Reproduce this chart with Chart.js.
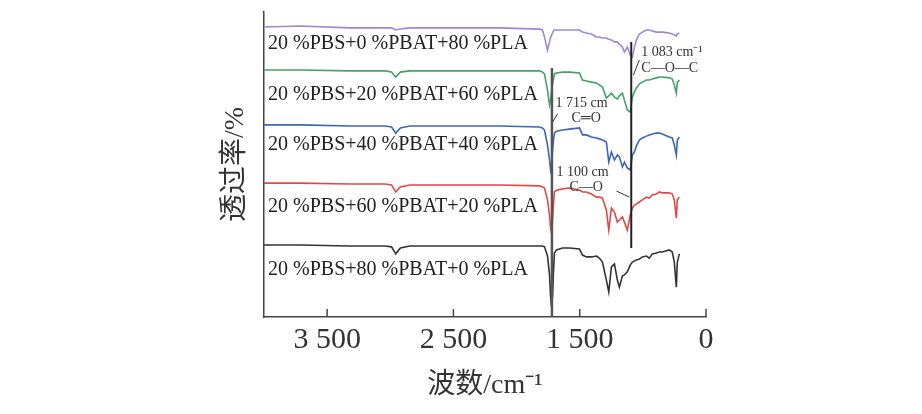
<!DOCTYPE html>
<html>
<head>
<meta charset="utf-8">
<script src="https://cdn.jsdelivr.net/npm/chart.js@4.4.1/dist/chart.umd.min.js"></script>
<style>
  html, body { margin: 0; padding: 0; background: #fff; }
  #wrap { width: 922px; height: 414px; }
</style>
</head>
<body>
<div id="wrap"><canvas id="ftir" width="922" height="414"></canvas></div>
<script>
// wavenumber grid (cm-1) shared by all spectra
const wavenumbers = [4000, 3715, 3320, 3043, 2990, 2957, 2920, 2846, 2530, 2134, 1818, 1795, 1779, 1755, 1739, 1731, 1723, 1715, 1708, 1700, 1684, 1636, 1581, 1502, 1478, 1447, 1407, 1368, 1344, 1320, 1289, 1270, 1249, 1225, 1202, 1186, 1162, 1146, 1123, 1100, 1083, 1067, 1051, 1028, 1004, 972, 949, 925, 893, 870, 846, 791, 767, 751, 735, 727, 711];

// transmittance (offset, arbitrary %) for each blend
const pla80 = [95.1, 95.4, 94.8, 94.8, 94.8, 94.1, 94.4, 94.8, 94.8, 94.8, 94.4, 94.1, 91.8, 87.5, 90.2, 91.5, 92.5, 93.1, 93.8, 94.1, 94.1, 94.1, 94.1, 94.1, 93.4, 93.1, 92.8, 91.8, 91.8, 91.5, 91.5, 91.1, 90.8, 90.2, 90.2, 89.5, 88.5, 86.9, 88.5, 85.9, 85.2, 88.5, 90.8, 92.8, 93.4, 94.1, 94.1, 93.8, 93.4, 93.4, 93.4, 93.1, 92.8, 92.5, 92.1, 92.8, 93.1];
const pla60 = [81.0, 81.0, 80.7, 80.7, 80.3, 78.7, 80.3, 80.7, 80.7, 80.7, 80.7, 80.3, 79.7, 74.4, 69.5, 71.1, 73.8, 76.4, 78.0, 79.7, 80.0, 80.3, 80.3, 80.0, 77.7, 77.4, 77.0, 76.7, 76.1, 75.4, 71.8, 72.5, 73.4, 72.1, 71.5, 72.5, 73.4, 71.1, 67.9, 67.2, 72.1, 73.8, 75.1, 76.4, 77.0, 77.7, 77.7, 78.0, 78.4, 78.7, 78.7, 78.4, 78.0, 76.1, 73.4, 77.0, 77.7];
const pla40 = [63.0, 63.0, 62.6, 62.6, 62.3, 60.3, 62.0, 62.6, 62.6, 62.6, 62.3, 62.0, 61.3, 56.4, 51.5, 48.2, 49.8, 54.8, 58.0, 60.3, 60.9, 61.3, 61.6, 62.0, 59.7, 59.7, 59.0, 58.7, 58.4, 58.0, 57.4, 50.8, 54.1, 51.5, 53.1, 52.5, 49.2, 50.8, 48.9, 48.2, 53.1, 54.1, 56.1, 58.0, 58.7, 59.3, 59.7, 60.0, 60.3, 60.3, 60.0, 59.0, 58.7, 56.4, 53.1, 58.0, 59.0];
const pla20 = [43.9, 43.9, 43.6, 43.6, 43.3, 41.0, 42.6, 43.3, 43.3, 43.3, 43.0, 42.6, 42.3, 38.4, 33.4, 29.2, 27.5, 31.8, 36.7, 41.0, 41.6, 42.0, 42.3, 41.6, 41.0, 41.0, 40.3, 39.3, 39.3, 39.0, 35.1, 28.5, 35.7, 34.4, 31.1, 31.8, 32.8, 31.1, 28.5, 33.4, 35.7, 36.7, 37.0, 37.7, 38.4, 39.3, 39.0, 40.0, 40.3, 41.0, 40.7, 40.7, 40.3, 38.4, 32.5, 38.4, 39.3];
const pla0 = [23.6, 23.6, 23.3, 23.3, 23.0, 20.7, 22.6, 23.3, 23.3, 23.3, 23.3, 23.3, 23.0, 20.0, 13.8, 6.9, 3.3, 6.9, 14.8, 21.0, 22.0, 22.6, 22.6, 22.3, 20.3, 19.7, 19.7, 20.0, 19.3, 18.0, 12.1, 8.2, 16.4, 17.4, 12.1, 9.8, 13.4, 13.8, 14.8, 17.0, 18.0, 18.4, 18.7, 19.0, 19.7, 20.0, 19.3, 20.7, 21.0, 21.3, 21.3, 22.0, 21.3, 18.0, 9.8, 18.0, 20.7];

const seriesNames = [
    '20 %PBS+0 %PBAT+80 %PLA',
    '20 %PBS+20 %PBAT+60 %PLA',
    '20 %PBS+40 %PBAT+40 %PLA',
    '20 %PBS+60 %PBAT+20 %PLA',
    '20 %PBS+80 %PBAT+0 %PLA'
];
const seriesValues = [pla80, pla60, pla40, pla20, pla0];
const seriesColors = ['#9f88d2', '#45a06a', '#3a67b8', '#e0484a', '#333333'];

const tickValues = [3500, 2500, 1500, 500];
const tickLabels = ['3 500', '2 500', '1 500', '0'];

const serif = "'Liberation Serif', 'Noto Sans CJK SC', serif";

// where each curve's name sits (wavenumber, transmittance)
const nameSpots = [[3968, 89.5], [3968, 72.8], [3968, 56.4], [3968, 36.1], [3968, 15.4]];

// band markers and their notes
const markerLines = [
    { wn: 1720, from: 81.6, to: 0, color: '#555', width: 2.5 },
    { wn: 1092, from: 90.2, to: 22.6, color: '#222', width: 2 }
];
const notes = [
    { text: '1 083 cm⁻¹', wn: 1012, v: 86.9 },
    { text: 'C—O—C', wn: 1012, v: 81.6 },
    { text: '1 715 cm', wn: 1692, v: 70.2 },
    { text: 'C═O', wn: 1565, v: 65.2 },
    { text: '1 100 cm', wn: 1684, v: 47.5 },
    { text: 'C—O', wn: 1581, v: 42.6 }
];
const leaders = [
    [1075, 79.3, 1028, 84.3],
    [1715, 63.9, 1676, 66.6],
    [1209, 41.3, 1107, 39.3]
];

const overlay = {
    id: 'overlay',
    afterDatasetsDraw(chart) {
        const { ctx, chartArea, scales: { x, y } } = chart;
        ctx.save();

        // ticks pointing into the plot
        ctx.strokeStyle = '#444';
        ctx.lineWidth = 1.5;
        tickValues.forEach(v => {
            const px = x.getPixelForValue(v);
            ctx.beginPath();
            ctx.moveTo(px, chartArea.bottom);
            ctx.lineTo(px, chartArea.bottom - 8);
            ctx.stroke();
        });

        markerLines.forEach(m => {
            ctx.strokeStyle = m.color;
            ctx.lineWidth = m.width;
            ctx.beginPath();
            ctx.moveTo(x.getPixelForValue(m.wn), y.getPixelForValue(m.from));
            ctx.lineTo(x.getPixelForValue(m.wn), y.getPixelForValue(m.to));
            ctx.stroke();
        });

        ctx.strokeStyle = '#333';
        ctx.lineWidth = 1;
        leaders.forEach(l => {
            ctx.beginPath();
            ctx.moveTo(x.getPixelForValue(l[0]), y.getPixelForValue(l[1]));
            ctx.lineTo(x.getPixelForValue(l[2]), y.getPixelForValue(l[3]));
            ctx.stroke();
        });

        ctx.fillStyle = '#333';
        ctx.textBaseline = 'middle';
        ctx.textAlign = 'left';
        ctx.font = '14px ' + serif;
        notes.forEach(n => {
            ctx.fillText(n.text, x.getPixelForValue(n.wn), y.getPixelForValue(n.v));
        });

        ctx.fillStyle = '#222';
        ctx.font = '20px ' + serif;
        seriesNames.forEach((name, i) => {
            ctx.fillText(name, x.getPixelForValue(nameSpots[i][0]), y.getPixelForValue(nameSpots[i][1]));
        });
        ctx.restore();
    }
};

new Chart(document.getElementById('ftir'), {
    type: 'line',
    data: {
        datasets: seriesNames.map((name, i) => ({
            label: name,
            data: wavenumbers.map((w, j) => ({ x: w, y: seriesValues[i][j] })),
            borderColor: seriesColors[i],
            borderWidth: 1.6,
            pointRadius: 0,
            tension: 0,
            fill: false
        }))
    },
    options: {
        responsive: false,
        animation: false,
        layout: { padding: { left: 200, right: 216, top: 12, bottom: 0 } },
        plugins: { legend: { display: false }, tooltip: { enabled: false } },
        scales: {
            x: {
                type: 'linear',
                reverse: true,
                min: 500,
                max: 4000,
                afterBuildTicks: s => { s.ticks = tickValues.map(v => ({ value: v })); },
                afterFit: s => { s.height = 97; },
                grid: { drawOnChartArea: false, drawTicks: false },
                border: { display: true, color: '#444', width: 1.5 },
                ticks: {
                    autoSkip: false,
                    maxRotation: 0,
                    padding: 5,
                    color: '#333',
                    font: { family: serif, size: 30 },
                    callback: v => tickLabels[tickValues.indexOf(v)]
                },
                title: {
                    display: true,
                    text: '波数/cm⁻¹',
                    color: '#333',
                    font: { family: serif, size: 28 },
                    padding: { top: 0, bottom: 12 }
                }
            },
            y: {
                min: 0,
                max: 100,
                afterFit: s => { s.width = 64; },
                grid: { drawOnChartArea: false, drawTicks: false },
                border: { display: true, color: '#444', width: 1.5 },
                ticks: { display: false },
                title: {
                    display: true,
                    text: '透过率/%',
                    color: '#333',
                    font: { family: serif, size: 28 },
                    padding: { top: 19, bottom: 0 }
                }
            }
        }
    },
    plugins: [overlay]
});
</script>
</body>
</html>
